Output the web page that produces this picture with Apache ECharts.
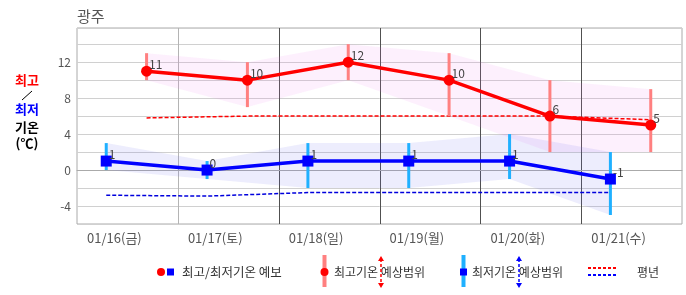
<!DOCTYPE html>
<html><head><meta charset="utf-8">
<script src="https://cdn.jsdelivr.net/npm/echarts@6/dist/echarts.min.js"></script>
<style>html,body{margin:0;padding:0;background:#fff}#c{width:686px;height:295px}</style>
</head><body><div id="c"></div>
<script>
const title = '광주';
const categories = ['01/16(금)','01/17(토)','01/18(일)','01/19(월)','01/20(화)','01/21(수)'];
const highTemps = [11,10,12,10,6,5];
const lowTemps = [1,0,1,1,1,-1];
const highRangeMax = [13,12,14,13,10,9];
const highRangeMin = [10,7,10,6,2,2];
const lowRangeMax = [3,1,3,3,4,2];
const lowRangeMin = [0,-1,-2,-2,-1,-5];
const normalHigh = [5.8,6,6,6,6,5.6];
const normalLow = [-2.8,-2.9,-2.5,-2.5,-2.5,-2.5];
const yLabelStep = 4;

const FONT = '"Noto Sans CJK KR", "Noto Sans", sans-serif';
const HI_OFF = 0.69, LO_OFF = 0.29;
const pts = (arr, off) => arr.map((v, i) => [i + off, v]);

function bandSeries(maxArr, minArr, off, color) {
  const data = [];
  for (let i = 0; i < maxArr.length - 1; i++)
    data.push([i + off, maxArr[i], minArr[i], i + 1 + off, maxArr[i + 1], minArr[i + 1]]);
  return {
    type: 'custom', z: 1, silent: true, clip: true,
    encode: { x: [0, 3], y: [1, 2, 4, 5] },
    renderItem: (p, api) => {
      const a = api.coord([api.value(0), api.value(1)]);
      const b = api.coord([api.value(3), api.value(4)]);
      const c = api.coord([api.value(3), api.value(5)]);
      const d = api.coord([api.value(0), api.value(2)]);
      return { type: 'polygon', shape: { points: [a, b, c, d] }, style: { fill: color } };
    },
    data
  };
}
function rangeBars(maxArr, minArr, off, color) {
  return {
    type: 'custom', z: 3, silent: true,
    encode: { x: 0, y: [1, 2] },
    renderItem: (p, api) => {
      const t = api.coord([api.value(0), api.value(1)]);
      const b = api.coord([api.value(0), api.value(2)]);
      return { type: 'rect', shape: { x: t[0] - 1.5, y: t[1], width: 3, height: b[1] - t[1] }, style: { fill: color } };
    },
    data: maxArr.map((v, i) => [i + off, v, minArr[i]])
  };
}
// day boundaries (between categories); the first one is drawn lighter
const boundaries = categories.slice(1).map((c, i) => [i + 1]);
const boundarySeries = {
  type: 'custom', z: 0, silent: true,
  encode: { x: 0 },
  renderItem: (p, api) => {
    const x = Math.round(api.coord([api.value(0), 0])[0]) + 0.5;
    const cs = p.coordSys;
    return { type: 'line', shape: { x1: x, y1: cs.y, x2: x, y2: cs.y + cs.height },
      style: { stroke: p.dataIndex === 0 ? '#b4b4b4' : '#505050', lineWidth: 1 } };
  },
  data: boundaries
};
function arrow(x, y1, y2, color) {
  return [
    { type: 'line', shape: { x1: x, y1: y1 + 3, x2: x, y2: y2 - 3 }, style: { stroke: color, lineWidth: 1.5, lineDash: [3, 2] } },
    { type: 'polygon', shape: { points: [[x, y1], [x - 3, y1 + 5], [x + 3, y1 + 5]] }, style: { fill: color } },
    { type: 'polygon', shape: { points: [[x, y2], [x - 3, y2 - 5], [x + 3, y2 - 5]] }, style: { fill: color } }
  ];
}
const txt = (x, y, s, color, size, weight, align) => ({
  type: 'text', x, y, style: { text: s, fill: color, font: (weight || 'normal') + ' ' + size + 'px ' + FONT, textAlign: align || 'left', textVerticalAlign: 'middle' }
});

const chart = echarts.init(document.getElementById('c'), null, { renderer: 'canvas' });
const LY = 272;
chart.setOption({
  animation: false,
  backgroundColor: '#fff',
  grid: { left: 77, right: 4, top: 28, bottom: 71, show: true, borderColor: '#aaa', borderWidth: 1, containLabel: false },
  xAxis: [
    { type: 'value', min: 0, max: categories.length, interval: 1, position: 'bottom',
      axisLabel: { show: false }, axisTick: { show: false },
      axisLine: { show: true, lineStyle: { color: '#aaa', width: 1 } },
      splitLine: { show: false } },
    { type: 'category', data: categories, boundaryGap: true, position: 'bottom',
      axisLine: { show: false }, axisTick: { show: false }, splitLine: { show: false },
      axisLabel: { color: '#555', fontSize: 13, fontFamily: FONT, margin: 8, padding: [0, 26, 0, 0], interval: 0 } }
  ],
  yAxis: { type: 'value', min: -6, max: 15.8, interval: 2,
    axisLine: { show: false }, axisTick: { show: false },
    axisLabel: { color: '#555', fontSize: 12, fontFamily: FONT, margin: 6,
      formatter: v => (Math.abs(v % yLabelStep) < 1e-9 ? String(v) : '') },
    splitLine: { show: true, lineStyle: { color: '#d0d0d0', width: 1 } } },
  series: [
    boundarySeries,
    bandSeries(highRangeMax, highRangeMin, HI_OFF, 'rgba(240,120,240,0.11)'),
    bandSeries(lowRangeMax, lowRangeMin, LO_OFF, 'rgba(110,110,240,0.12)'),
    { type: 'line', z: 2, data: pts(normalHigh, HI_OFF), symbol: 'none', silent: true,
      lineStyle: { color: '#ff0000', width: 1.5, type: [4, 2] } },
    { type: 'line', z: 2, data: pts(normalLow, LO_OFF), symbol: 'none', silent: true,
      lineStyle: { color: '#0000dd', width: 1.5, type: [4, 2] } },
    rangeBars(highRangeMax, highRangeMin, HI_OFF, '#ff8080'),
    rangeBars(lowRangeMax, lowRangeMin, LO_OFF, '#1fb0ff'),
    { type: 'line', z: 5, data: pts(highTemps, HI_OFF), symbol: 'circle', symbolSize: 11,
      itemStyle: { color: '#ff0000' }, lineStyle: { color: '#ff0000', width: 3.5 },
      label: { show: true, position: 'right', distance: -3, offset: [0, -7], color: '#444', fontSize: 12, fontFamily: FONT,
        formatter: p => String(p.value[1]) } },
    { type: 'line', z: 5, data: pts(lowTemps, LO_OFF), symbol: 'rect', symbolSize: 11,
      itemStyle: { color: '#0000ff' }, lineStyle: { color: '#0000ff', width: 3.5 },
      label: { show: true, position: 'right', distance: -3, offset: [0, -7], color: '#444', fontSize: 12, fontFamily: FONT,
        formatter: p => String(p.value[1]) } }
  ],
  graphic: [
    txt(77, 16, title, '#555', 15),
    txt(27, 80, '최고', '#ff0000', 13, 'bold', 'center'),
    { type: 'line', shape: { x1: 22, y1: 100, x2: 32, y2: 91 }, style: { stroke: '#000', lineWidth: 1 } },
    txt(27, 109, '최저', '#0000ff', 13, 'bold', 'center'),
    txt(27, 127, '기온', '#000', 13, 'bold', 'center'),
    txt(27, 143, '(℃)', '#000', 13, 'bold', 'center'),
    // legend 1
    { type: 'circle', shape: { cx: 161, cy: LY, r: 4 }, style: { fill: '#ff0000' } },
    { type: 'rect', shape: { x: 167, y: LY - 3.5, width: 7, height: 7 }, style: { fill: '#0000ff' } },
    txt(182, LY, '최고/최저기온 예보', '#333', 12.5),
    // legend 2
    { type: 'rect', shape: { x: 322.5, y: 255, width: 4, height: 32 }, style: { fill: '#ff8080' } },
    { type: 'circle', shape: { cx: 324.5, cy: LY, r: 4 }, style: { fill: '#ff0000' } },
    txt(334, LY, '최고기온 예상범위', '#333', 12),
    ...arrow(381, 256, 288, '#ff0000'),
    // legend 3
    { type: 'rect', shape: { x: 461.5, y: 255, width: 4, height: 32 }, style: { fill: '#1fb0ff' } },
    { type: 'rect', shape: { x: 460, y: LY - 3.5, width: 7, height: 7 }, style: { fill: '#0000ff' } },
    txt(472, LY, '최저기온 예상범위', '#333', 12),
    ...arrow(519, 256, 288, '#0000ff'),
    // legend 4
    { type: 'line', shape: { x1: 588, y1: 268, x2: 616, y2: 268 }, style: { stroke: '#ff0000', lineWidth: 2, lineDash: [3, 2] } },
    { type: 'line', shape: { x1: 588, y1: 275, x2: 616, y2: 275 }, style: { stroke: '#0000ff', lineWidth: 2, lineDash: [3, 2] } },
    txt(637, LY, '평년', '#333', 12)
  ]
});
</script></body></html>
